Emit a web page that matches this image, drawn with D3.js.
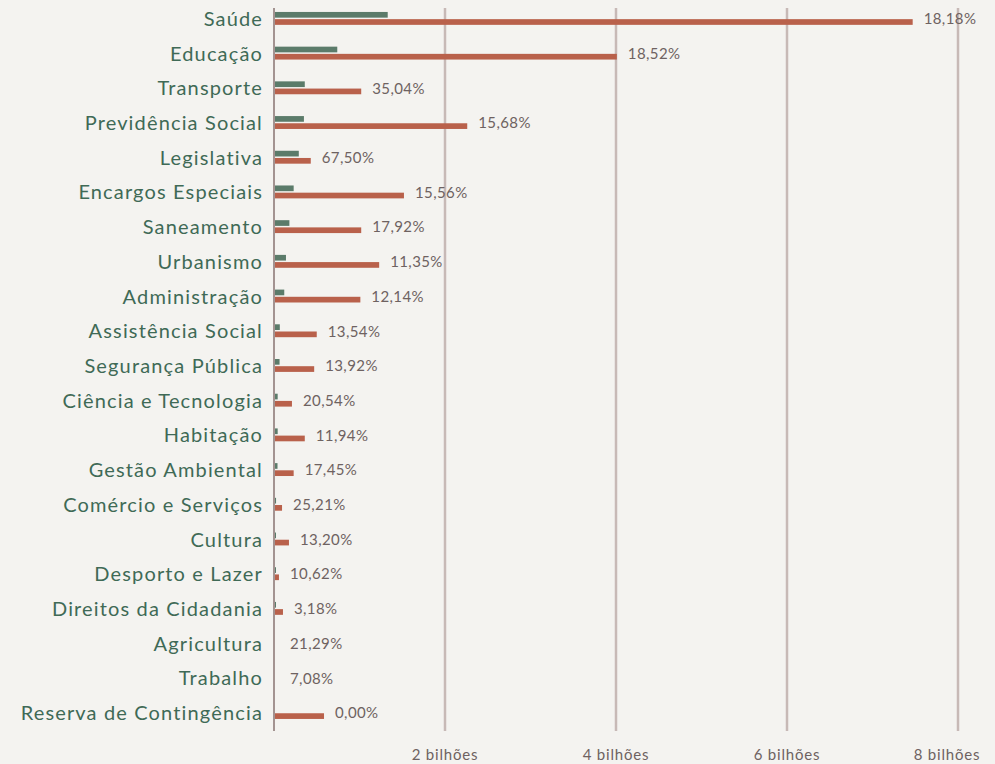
<!DOCTYPE html>
<html>
<head>
<meta charset="utf-8">
<script src="https://cdn.jsdelivr.net/npm/d3@7"></script>
<style>
  body { margin: 0; background: #f4f3f0; }
  svg { display: block; font-family: Lato, "Open Sans", sans-serif; }
  .cat { fill: #3f6a56; font-size: 20px; letter-spacing: 1.15px; }
  .pct { fill: #6e6261; font-size: 15px; letter-spacing: 0.4px; }
  .tick-label { fill: #6e6261; font-size: 15px; letter-spacing: 0.8px; }
</style>
</head>
<body>
<svg width="995" height="764"></svg>
<script>
// DATA (valores em bilhões)
const categories = ["Saúde", "Educação", "Transporte", "Previdência Social", "Legislativa",
  "Encargos Especiais", "Saneamento", "Urbanismo", "Administração", "Assistência Social",
  "Segurança Pública", "Ciência e Tecnologia", "Habitação", "Gestão Ambiental",
  "Comércio e Serviços", "Cultura", "Desporto e Lazer", "Direitos da Cidadania",
  "Agricultura", "Trabalho", "Reserva de Contingência"]

const executed = [1.33, 0.74, 0.36, 0.35, 0.29, 0.23, 0.18, 0.14, 0.12, 0.068,
  0.065, 0.043, 0.043, 0.041, 0.024, 0.023, 0.006, 0.003, 0.0004, 0.0001, 0]

const budgeted = [7.47, 4.01, 1.02, 2.26, 0.43, 1.52, 1.02, 1.23, 1.01, 0.50,
  0.47, 0.21, 0.36, 0.23, 0.094, 0.175, 0.058, 0.105, 0.002, 0.001, 0.585]

const pctLabels = ["18,18%", "18,52%", "35,04%", "15,68%", "67,50%", "15,56%", "17,92%",
  "11,35%", "12,14%", "13,54%", "13,92%", "20,54%", "11,94%", "17,45%", "25,21%",
  "13,20%", "10,62%", "3,18%", "21,29%", "7,08%", "0,00%"]

const tickValues = [2, 4, 6, 8]
const tickLabels = ["2 bilhões", "4 bilhões", "6 bilhões", "8 bilhões"]

// SETUP
const svg = d3.select("svg")

const scaleX = d3.scaleLinear()
  .domain([0, 8])
  .range([274, 958])

const scaleY = d3.scaleBand()
  .domain(categories)
  .range([1.6, 730.4])

const step = scaleY.bandwidth()

// grid
svg.append("g")
  .selectAll("line")
  .data(tickValues)
  .enter()
  .append("line")
  .attr("x1", d => scaleX(d))
  .attr("x2", d => scaleX(d))
  .attr("y1", 8)
  .attr("y2", 731)
  .attr("stroke", "#c7b9b6")
  .attr("stroke-width", 2.5)

// last label is pulled in so it stays inside the page
svg.append("g")
  .selectAll("text")
  .data(tickValues)
  .enter()
  .append("text")
  .attr("class", "tick-label")
  .attr("x", (d, i) => Math.min(scaleX(d), 947))
  .attr("y", 760)
  .attr("text-anchor", "middle")
  .text((d, i) => tickLabels[i])

// rows
const rows = svg.selectAll("g.row")
  .data(categories)
  .enter()
  .append("g")
  .attr("class", "row")
  .attr("transform", d => `translate(0, ${scaleY(d) + step / 2})`)

rows.append("text")
  .attr("class", "cat")
  .attr("x", 263)
  .attr("y", 0)
  .attr("dy", "0.35em")
  .attr("text-anchor", "end")
  .text(d => d)

rows.append("rect")
  .attr("x", scaleX(0))
  .attr("y", -7)
  .attr("height", 5.7)
  .attr("width", (d, i) => Math.max(scaleX(executed[i]) - scaleX(0), executed[i] > 0.001 ? 2 : 0))
  .attr("fill", "#5b7b6a")

rows.append("rect")
  .attr("x", scaleX(0))
  .attr("y", 0.2)
  .attr("height", 5.7)
  .attr("width", (d, i) => scaleX(budgeted[i]) - scaleX(0))
  .attr("fill", "#b9614b")

rows.append("text")
  .attr("class", "pct")
  .attr("x", (d, i) => Math.max(scaleX(budgeted[i]) + 11, 290))
  .attr("y", 0)
  .attr("dy", "0.35em")
  .text((d, i) => pctLabels[i])

// axis line
svg.append("line")
  .attr("x1", scaleX(0))
  .attr("x2", scaleX(0))
  .attr("y1", 8)
  .attr("y2", 731)
  .attr("stroke", "#a39391")
  .attr("stroke-width", 2)
</script>
</body>
</html>
